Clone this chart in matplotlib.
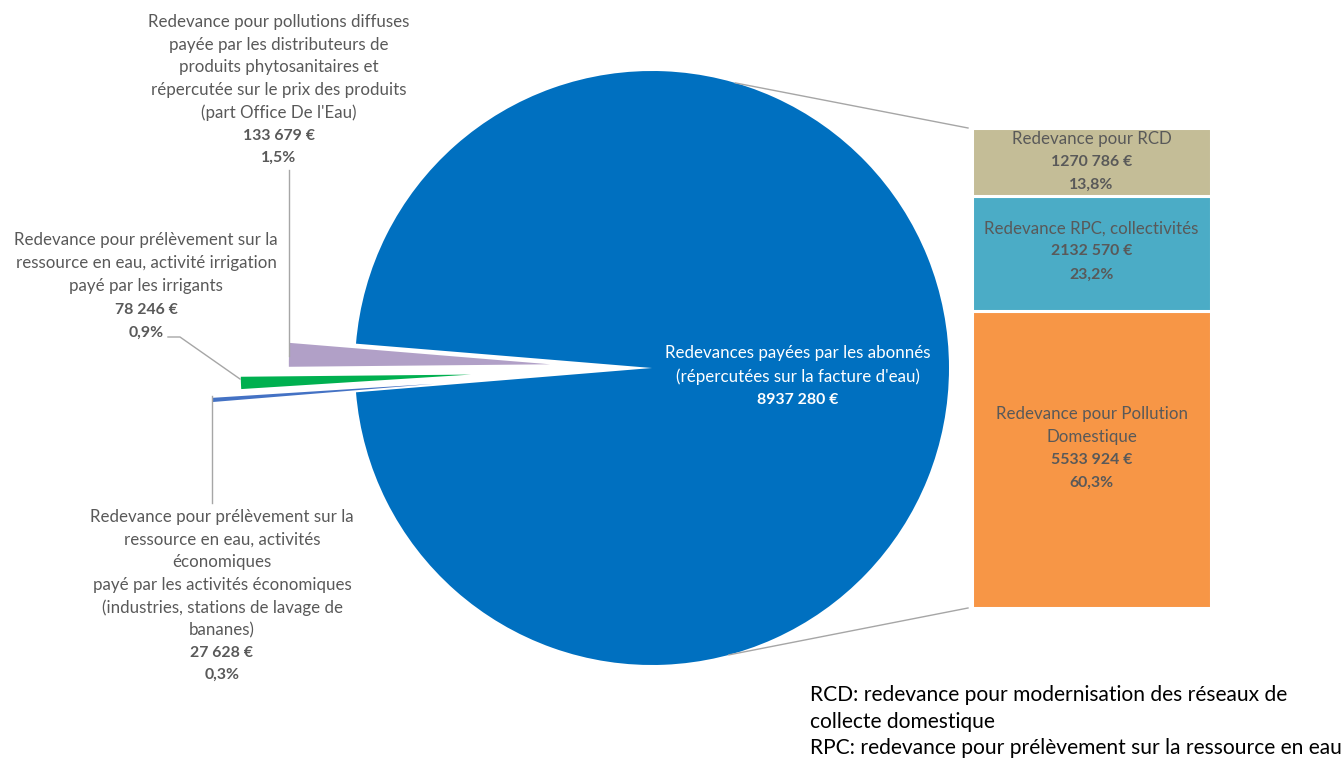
import matplotlib
matplotlib.use("Agg")
import matplotlib.pyplot as plt
import numpy as np

# ---------------- data ----------------
main_label = ["Redevances payées par les abonnés", "(répercutées sur la facture d'eau)"]
main_value = 8937280

small_labels = [
    ["Redevance pour pollutions diffuses", "payée par les distributeurs de",
     "produits phytosanitaires et", "répercutée sur le prix des produits",
     "(part Office De l'Eau)"],
    ["Redevance pour prélèvement sur la", "ressource en eau, activité irrigation",
     "payé par les irrigants"],
    ["Redevance pour prélèvement sur la", "ressource en eau, activités", "économiques",
     "payé par les activités économiques", "(industries, stations de lavage de",
     "bananes)"],
]
small_values = [133679, 78246, 27628]

bar_labels = [["Redevance pour RCD"], ["Redevance RPC, collectivités"],
              ["Redevance pour Pollution", "Domestique"]]
bar_values = [1270786, 2132570, 5533924]

note_lines = ["RCD: redevance pour modernisation des réseaux de",
              "collecte domestique",
              "RPC: redevance pour prélèvement sur la ressource en eau"]

total = main_value + sum(small_values)


def fmt_eur(v):
    return f"{v // 1000} {v % 1000:03d} €"


def fmt_pct(v):
    return f"{v / total * 100:.1f}".replace(".", ",") + "%"


# ---------------- style ----------------
plt.rcParams["font.family"] = ["Lato", "DejaVu Sans"]
GRAY = "#595959"
FS = 12.2      # regular text
FSB = 11.4     # bold values
small_colors = ["#B1A0C7", "#00B050", "#4472C4"]
main_color = "#0070C0"
bar_colors = ["#C4BD97", "#4BACC6", "#F79646"]

W, H = 1344, 761
fig = plt.figure(figsize=(W / 100, H / 100), dpi=100)
ax = fig.add_axes([0, 0, 1, 1])

cx, cy, R = 652, H - 368, 297
explode_frac = [0.343, 0.61, 0.734]
radius_frac = [0.88, 0.775, 0.75]

wedges, _ = ax.pie(small_values + [main_value],
                   colors=small_colors + [main_color],
                   startangle=175.3, counterclock=True,
                   center=(cx, cy), radius=R,
                   explode=[f * R for f in explode_frac] + [0],
                   frame=True, wedgeprops=dict(linewidth=0))
for w, rf in zip(wedges[:3], radius_frac):
    w.set_radius(rf * R)

ax.set_xlim(0, W)
ax.set_ylim(0, H)
ax.set_aspect("equal")
ax.axis("off")


def draw_lines(x, y0, lines, bolds, step, color=GRAY, ha="center"):
    for i, (t, b) in enumerate(zip(lines, bolds)):
        ax.text(x, H - (y0 + i * step), t, ha=ha, va="center", color=color,
                fontsize=FSB if b else FS, fontweight="bold" if b else "normal")


# small slice labels
label_pos = [(279, 22, 22.7), (146, 240, 23.2), (222, 517, 22.6)]
for lines, v, (x, y0, st) in zip(small_labels, small_values, label_pos):
    all_lines = lines + [fmt_eur(v), fmt_pct(v)]
    draw_lines(x, y0, all_lines, [False] * len(lines) + [True, True], st)

# leader lines
lc = "#A6A6A6"
ax.plot([289, 289], [H - 170, H - 356], color=lc, lw=1.0)
ax.plot([168, 180, 240], [H - 337, H - 337, H - 379], color=lc, lw=1.0)
ax.plot([212, 212], [H - 396, H - 503], color=lc, lw=1.0)

# main label
draw_lines(798, 353, main_label + [fmt_eur(main_value)], [False, False, True], 23.5,
           color="white")

# ---------------- bar of pie ----------------
bx0, btop, bx1, bbot = 972, 128, 1211, 608
ax2 = fig.add_axes([bx0 / W, (H - bbot) / H, (bx1 - bx0) / W, (bbot - btop) / H])
ax2.set_xlim(0, 1)
ax2.set_ylim(0, sum(bar_values))
ax2.axis("off")
order = [2, 1, 0]  # bottom to top
label_shift = [2.0, 3.5, 10.0]  # points, label nudge per segment
bottom = 0
for i in order:
    v = bar_values[i]
    ax2.bar(0.5, v, bottom=bottom, width=1.0, color=bar_colors[i],
            edgecolor="white", linewidth=2.2)
    lines = bar_labels[i] + [fmt_eur(v), fmt_pct(v)]
    bolds = [False] * len(bar_labels[i]) + [True, True]
    n = len(lines)
    yc = bottom + v / 2
    step = 16.6
    for k, (t, b) in enumerate(zip(lines, bolds)):
        ax2.annotate(t, (0.5, yc),
                     xytext=(0, ((n - 1) / 2 - k) * step - 2 + label_shift[i]),
                     textcoords="offset points", ha="center", va="center",
                     color=GRAY, fontsize=FSB if b else FS,
                     fontweight="bold" if b else "normal")
    bottom += v

# connector lines
a_top, a_bot = np.deg2rad(73.7), np.deg2rad(-75)
ax.plot([cx + R * np.cos(a_top), bx0 - 4], [cy + R * np.sin(a_top), H - btop], color=lc, lw=1.0)
ax.plot([cx + R * np.cos(a_bot), bx0 - 4], [cy + R * np.sin(a_bot), H - bbot], color=lc, lw=1.0)

# note
for i, t in enumerate(note_lines):
    ax.text(810, H - (695 + i * 26.5), t, ha="left", va="center", color="black",
            fontsize=15.1)

fig.savefig("out.png", dpi=100)
